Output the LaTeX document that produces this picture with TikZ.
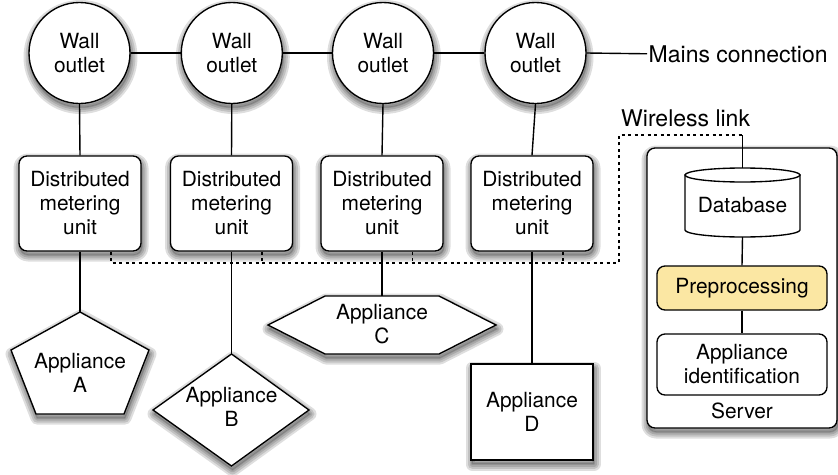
\documentclass[tikz,border=0pt]{standalone}
\usepackage{fontspec}
\setmainfont{TeX Gyre Heros}
\definecolor{prefill}{RGB}{251,231,163}
\newcommand\lblfont{\fontsize{20.9}{24}\selectfont}
\newcommand\biglblfont{\fontsize{23}{27}\selectfont}
\tikzset{
 base/.style={draw=black, line width=1.35pt, fill=white},
 shlayer/.style={draw=black, opacity=0.13, line join=round, line width=#1, transform canvas={xshift=1pt, yshift=-4pt}},
 shad/.style={
   preaction={shlayer=13pt, fill=black},
   preaction={shlayer=9pt},
   preaction={shlayer=5pt},
   preaction={shlayer=1.5pt}},
 outlet/.style={base, shad, circle, minimum size=101pt, inner sep=0pt, align=center, font=\lblfont},
 dmu/.style={base, shad, rounded corners=8pt, minimum width=122pt, minimum height=95pt, inner sep=0pt, align=center, font=\lblfont},
 inbox/.style={base, rounded corners=8pt, minimum width=170pt, inner sep=0pt, align=center, font=\lblfont},
 txt/.style={align=center, font=\lblfont, inner sep=0pt},
 free/.style={font=\biglblfont, inner sep=1.5pt, anchor=base west},
 conn/.style={line width=1.4pt},
 wireless/.style={line width=1.8pt, dash pattern=on 3pt off 3.5pt},
}
\begin{document}
\begin{tikzpicture}[x=1pt,y=-1pt]
\useasboundingbox (0,0) rectangle (838,474);

% wall outlets
\node[outlet] (w1) at (79.5,53) {Wall\\outlet};
\node[outlet] (w2) at (231.8,53) {Wall\\outlet};
\node[outlet] (w3) at (383,53) {Wall\\outlet};
\node[outlet] (w4) at (535.5,53) {Wall\\outlet};
\node[free] (mains) at (647,62) {Mains connection};

% metering units
\node[dmu] (d1) at (80,203.5) {Distributed\\metering\\unit};
\node[dmu] (d2) at (231.5,203.5) {Distributed\\metering\\unit};
\node[dmu] (d3) at (382,203.5) {Distributed\\metering\\unit};
\node[dmu] (d4) at (532,203.5) {Distributed\\metering\\unit};

% appliances
\filldraw[base,shad] (80,312) -- (149,350) -- (124,414) -- (36,414) -- (11,350) -- cycle;
\coordinate (aTop) at (80,312);
\node[txt] (aA) at (80,373) {Appliance\\A};

\filldraw[base,shad] (231.5,354) -- (309,410) -- (231.5,466) -- (153,410) -- cycle;
\coordinate (bTop) at (231.5,354);
\node[txt] (aB) at (231.5,407) {Appliance\\B};

\filldraw[base,shad] (268,325) -- (325,296) -- (439,296) -- (496,325) -- (439,354) -- (325,354) -- cycle;
\coordinate (cTop) at (382,296);
\node[txt] (aC) at (382,324) {Appliance\\C};

\node[base,shad,minimum width=122pt,minimum height=96pt,inner sep=0pt,align=center,font=\lblfont] (aD) at (532,412) {Appliance\\D};

% server
\node[base,shad,rounded corners=8pt,minimum width=190pt,minimum height=280pt] (srv) at (742,288) {};
\node[txt] (srvlbl) at (742,410.5) {Server};
\filldraw[base] (685,175) -- (685,230) arc[start angle=180,end angle=360,x radius=57.5pt,y radius=7pt] -- (800,175) -- cycle;
\filldraw[base] (742.5,175) ellipse[x radius=57.5pt, y radius=7pt];
\coordinate (dbTop) at (742.5,168);
\coordinate (dbBot) at (742.5,237);
\node[txt] (db) at (742.5,205.5) {Database};
\node[inbox, fill=prefill, minimum height=44pt] (pre) at (742,288) {Preprocessing};
\node[inbox, minimum height=61pt] (ident) at (742,364.5) {Appliance\\identification};
\node[free] (wl) at (619.5,126) {Wireless link};

% mains connectors
\draw[conn] (w1.east) -- (w2.west);
\draw[conn] (w2.east) -- (w3.west);
\draw[conn] (w3.east) -- (w4.west);
\draw[conn] (w4.east) -- (mains.west);
\draw[conn] (w1.south) -- (d1.north);
\draw[conn] (w2.south) -- (d2.north);
\draw[conn] (w3.south) -- (d3.north);
\draw[conn] (w4.south) -- (d4.north);

% appliance connectors
\draw[conn] (d1.south) -- (aTop);
\draw[conn] (d2.south) -- (bTop);
\draw[conn] (d3.south) -- (cTop);
\draw[conn] (d4.south) -- (aD.north);

% wireless link
\coordinate (k1) at (111,263);
\coordinate (k2) at (262,263);
\coordinate (k3) at (412.5,263);
\coordinate (k4) at (563,263);
\coordinate (kc1) at (619,263);
\coordinate (kc2) at (619,135);
\coordinate (kc3) at (742.5,135);
\draw[wireless] (d1.south -| k1) -- (k1) -- (kc1) -- (kc2) -- (kc3);
\draw[wireless] (d2.south -| k2) -- (k2);
\draw[wireless] (d3.south -| k3) -- (k3);
\draw[wireless] (d4.south -| k4) -- (k4);
\draw[conn] (kc3) -- (dbTop);

% server connectors
\draw[conn] (dbBot) -- (pre.north);
\draw[conn] (pre.south) -- (ident.north);
\end{tikzpicture}
\end{document}
